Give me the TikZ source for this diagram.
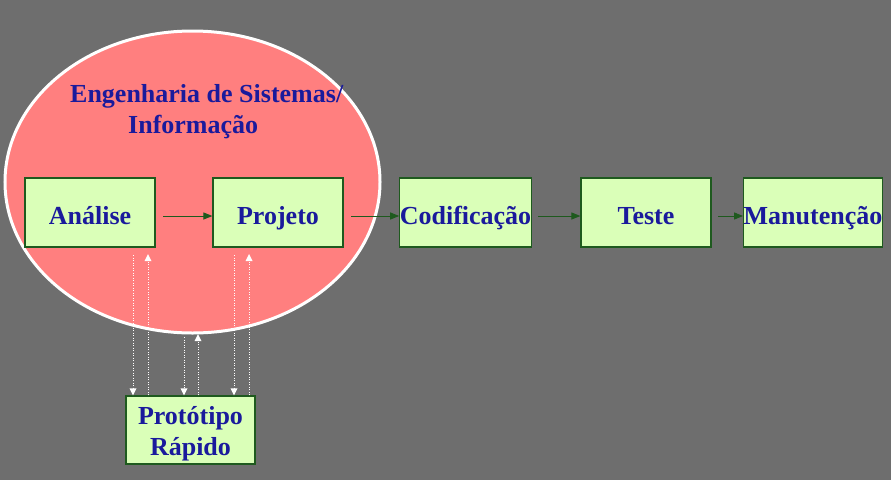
\documentclass[tikz,border=0pt]{standalone}
\usepackage{fontspec}
\setmainfont{Liberation Serif}
\usetikzlibrary{arrows.meta,shapes.geometric}
\definecolor{bg}{HTML}{6E6E6E}
\definecolor{ell}{HTML}{FF7F7F}
\definecolor{boxfill}{HTML}{DAFFB8}
\definecolor{boxline}{HTML}{1E5A1E}
\definecolor{txt}{HTML}{1A1A9C}
\definecolor{arr}{HTML}{1E5A1E}
\tikzset{
  stagebox/.style={draw=boxline, line width=1.2pt, fill=boxfill, minimum width=130pt, minimum height=69pt, inner sep=0pt, text=txt, font=\fontsize{26}{31}\selectfont\bfseries, align=center},
  single/.style={text height=24pt, text depth=0pt},
  flow/.style={draw=arr, line width=1pt, -{Triangle[length=9pt,width=7pt]}},
  dotdown/.style={draw=white, line width=0.9pt, dash pattern=on 1pt off 1.5pt, -{Triangle[length=7pt,width=7pt,fill=white,line width=0pt]}},
  title/.style={text=txt, font=\fontsize{26}{31}\selectfont\bfseries, anchor=west, inner sep=0pt}
}
\begin{document}
\begin{tikzpicture}[x=1pt,y=-1pt]
\fill[bg] (0,0) rectangle (891,480);
\useasboundingbox (0,0) rectangle (891,480);
\node[draw=white, line width=3pt, fill=ell, ellipse, inner sep=0pt, minimum width=375pt, minimum height=302pt] (circ) at (192.5,182) {};
\node[title] (t1) at (70,96) {Engenharia de Sistemas/};
\node[title] (t2) at (128,127) {Informação};
\node[stagebox, single] (an) at (90,212.5) {Análise};
\node[stagebox, single] (pr) at (278,212.5) {Projeto};
\node[stagebox, single] (co) at (465.5,212.5) {Codificação};
\node[stagebox, single] (te) at (646,212.5) {Teste};
\node[stagebox, single] (ma) at (813,212.5) {Manutenção};
\node[stagebox, minimum width=129pt, minimum height=68pt] (pt) at (190.5,430) {\rule{0pt}{25pt}Protótipo\\Rápido};
\coordinate (a1) at (163,216);
\draw[flow] (a1) -- (pr.west |- a1);
\coordinate (a2) at (351,216);
\draw[flow] (a2) -- (co.west |- a2);
\coordinate (a3) at (538,216);
\draw[flow] (a3) -- (te.west |- a3);
\coordinate (a4) at (718,216);
\draw[flow] (a4) -- (ma.west |- a4);
% dotted links
\coordinate (d1) at (133,255);
\draw[dotdown] (d1) -- (pt.north -| d1);
\coordinate (u1) at (148,254);
\draw[dotdown] (pt.north -| u1) -- (u1);
\coordinate (d2) at (234,255);
\draw[dotdown] (d2) -- (pt.north -| d2);
\coordinate (u2) at (249,254);
\draw[dotdown] (pt.north -| u2) -- (u2);
\coordinate (d3) at (184,337);
\draw[dotdown] (d3) -- (pt.north -| d3);
\coordinate (u3) at (198,334);
\draw[dotdown] (pt.north -| u3) -- (u3);
\end{tikzpicture}
\end{document}
